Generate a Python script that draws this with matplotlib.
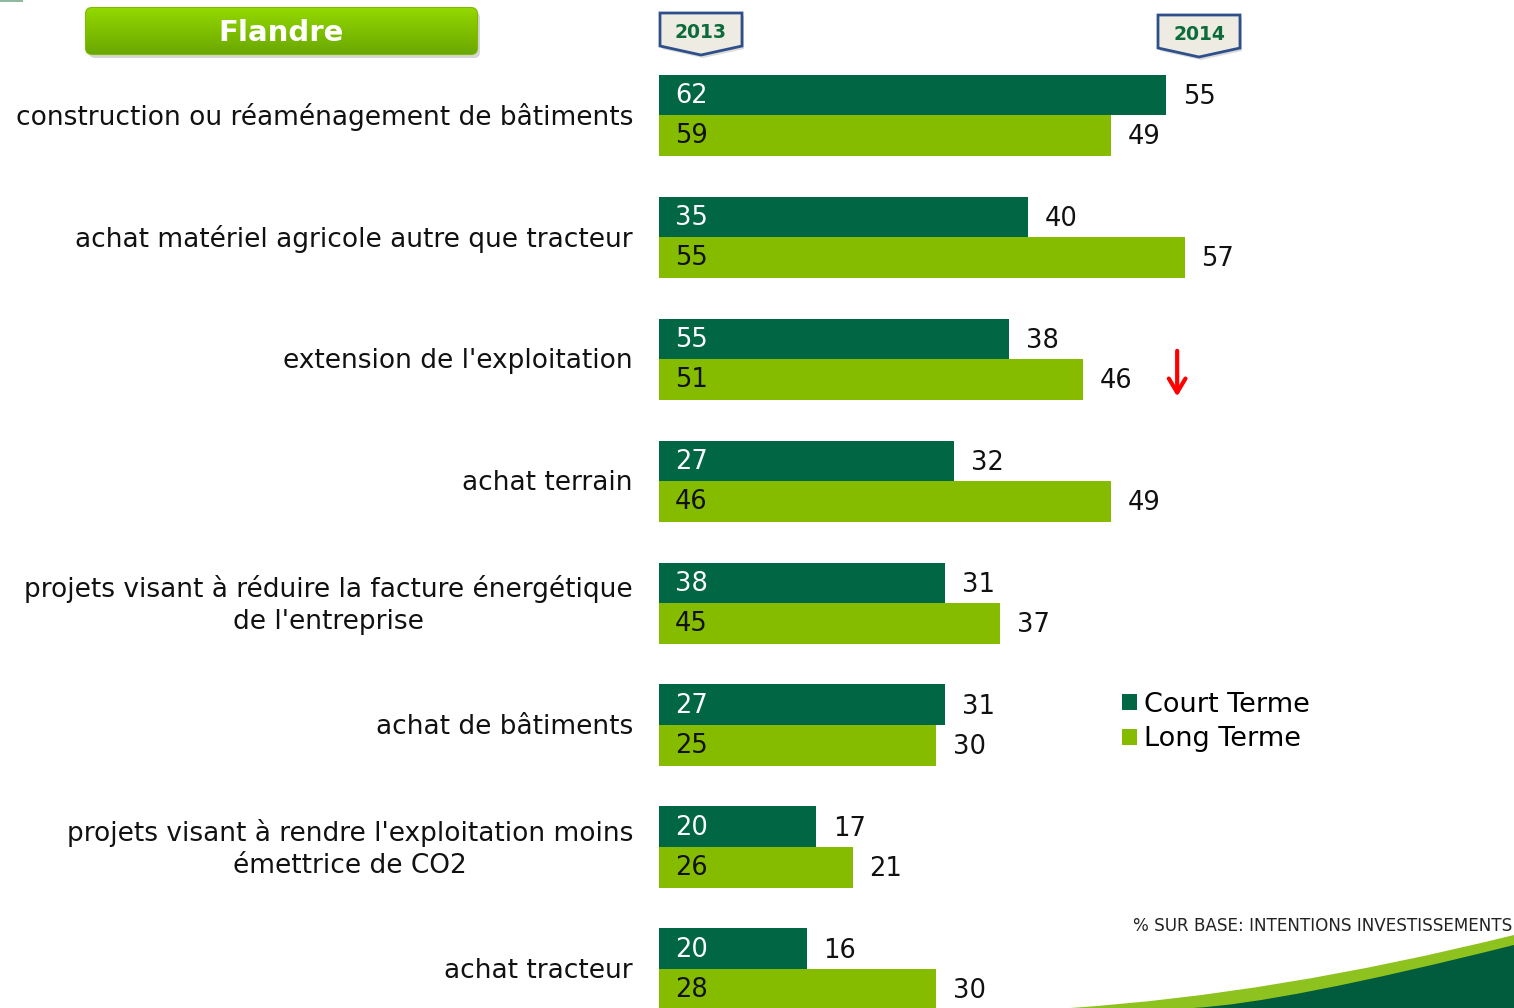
import numpy as np
import matplotlib.pyplot as plt
from matplotlib.patches import FancyBboxPatch, Polygon, PathPatch, Rectangle
from matplotlib.path import Path
from matplotlib.colors import LinearSegmentedColormap
import matplotlib.transforms as mtransforms

categories = [
    "construction ou réaménagement de bâtiments",
    "achat matériel agricole autre que tracteur",
    "extension de l'exploitation",
    "achat terrain",
    "projets visant à réduire la facture énergétique\nde l'entreprise",
    "achat de bâtiments",
    "projets visant à rendre l'exploitation moins\némettrice de CO2",
    "achat tracteur",
]
court_2013 = [62, 35, 55, 27, 38, 27, 20, 20]
long_2013 = [59, 55, 51, 46, 45, 25, 26, 28]
court_2014 = [55, 40, 38, 32, 31, 31, 17, 16]
long_2014 = [49, 57, 46, 49, 37, 30, 21, 30]

dark = '#006644'
light = '#86bc00'

W, H = 1514, 1008
fig = plt.figure(figsize=(W / 100, H / 100), dpi=100)

# decoration layer in pixel coords
deco = fig.add_axes([0, 0, 1, 1], zorder=0)
deco.set_xlim(0, W)
deco.set_ylim(H, 0)
deco.axis('off')

ax = fig.add_axes([659 / W, 0, (W - 659) / W, 1], zorder=1)
ax.patch.set_alpha(0)
px_per_unit = 9.22
ax.set_xlim(0, (W - 659) / px_per_unit)
ax.set_ylim((H - 115) / 122, -115 / 122)
ax.axis('off')

h = 40.5 / 122
y = np.arange(len(categories))
ax.barh(y - h / 2, court_2014, height=h, color=dark, label='Court Terme')
ax.barh(y + h / 2, long_2014, height=h, color=light, label='Long Terme')

lab_tr = mtransforms.blended_transform_factory(fig.transFigure, ax.transData)
lab_tr = lab_tr + mtransforms.ScaledTranslation(0, -2 / 100, fig.dpi_scale_trans)
for i, cat in enumerate(categories):
    ax.text(633 / W, i, cat, transform=lab_tr, ha='right', va='center',
            fontsize=19, multialignment='center', color='#111111',
            linespacing=1.3)
    ax.annotate(str(court_2013[i]), (0, i - h / 2), xytext=(16, -1),
                textcoords='offset pixels', ha='left', va='center',
                fontsize=18.5, color='white')
    ax.annotate(str(long_2013[i]), (0, i + h / 2), xytext=(16, -1),
                textcoords='offset pixels', ha='left', va='center',
                fontsize=18.5, color='#111111')
    ax.annotate(str(court_2014[i]), (court_2014[i], i - h / 2), xytext=(17, -2),
                textcoords='offset pixels', ha='left', va='center',
                fontsize=18.5, color='#111111')
    ax.annotate(str(long_2014[i]), (long_2014[i], i + h / 2), xytext=(17, -2),
                textcoords='offset pixels', ha='left', va='center',
                fontsize=18.5, color='#111111')

# red arrow on "extension de l'exploitation"
ax.annotate('', xy=(56.2, 2.33), xytext=(56.2, 1.91),
            arrowprops=dict(arrowstyle='->, head_length=1.0, head_width=0.6',
                            color='red', lw=3))

ax.legend(loc='upper left', bbox_to_anchor=(1111 / W, 1 - 681 / H),
          bbox_transform=fig.transFigure, frameon=False, fontsize=19.5,
          handlelength=0.55, handleheight=0.55, handletextpad=0.25,
          labelspacing=0.32, borderaxespad=0)

# title badge
shadow = FancyBboxPatch((89, 12), 391, 46, boxstyle='round,pad=0,rounding_size=6',
                        fc='#bbbbbb', ec='none', alpha=0.6)
deco.add_patch(shadow)
badge = FancyBboxPatch((86, 8), 391, 46, boxstyle='round,pad=0,rounding_size=6',
                       fc='none', ec='#7cba00', lw=1.5)
deco.add_patch(badge)
grad = np.linspace(0, 1, 100).reshape(-1, 1)
cm = LinearSegmentedColormap.from_list('g', ['#93d800', '#6aa800'])
im = deco.imshow(grad, cmap=cm, extent=[86, 477, 54, 8], aspect='auto', zorder=1)
im.set_clip_path(badge)
deco.text(281, 33, 'Flandre', ha='center', va='center', fontsize=21,
          fontweight='bold', color='white', zorder=3)

# year tags
for x0, y0, yr in [(660, 13, '2013'), (1158, 15, '2014')]:
    pts = [(x0, y0), (x0 + 82, y0), (x0 + 82, y0 + 33), (x0 + 41, y0 + 42), (x0, y0 + 33)]
    sh = Polygon([(px + 2, py + 3) for px, py in pts], closed=True, fc='#cccccc',
                 ec='none', alpha=0.7)
    deco.add_patch(sh)
    deco.add_patch(Polygon(pts, closed=True, fc='#eeece2', ec='#2f4f8a', lw=2))
    deco.text(x0 + 41, y0 + 20, yr, ha='center', va='center', fontsize=13.5,
              fontweight='bold', color='#0b6b3a')

# small mark top-left
deco.add_patch(Rectangle((0, 0), 23, 2, fc='#8fb8a0', ec='none'))

# footnote
deco.text(1512, 926, '% SUR BASE: INTENTIONS INVESTISSEMENTS', ha='right',
          va='center', fontsize=12.1, color='#222222')

# swoosh bottom-right
lp = Path([(1070, 1008), (1274, 994.5), (1514, 935), (1514, 1008), (1070, 1008)],
          [Path.MOVETO, Path.CURVE3, Path.CURVE3, Path.LINETO, Path.CLOSEPOLY])
deco.add_patch(PathPatch(lp, fc='#8dc21f', ec='none'))
dp = Path([(1193, 1008), (1280.5, 1003.5), (1514, 945), (1514, 1008), (1193, 1008)],
          [Path.MOVETO, Path.CURVE3, Path.CURVE3, Path.LINETO, Path.CLOSEPOLY])
deco.add_patch(PathPatch(dp, fc='#005c3c', ec='none'))

fig.savefig('out.png', dpi=100)
